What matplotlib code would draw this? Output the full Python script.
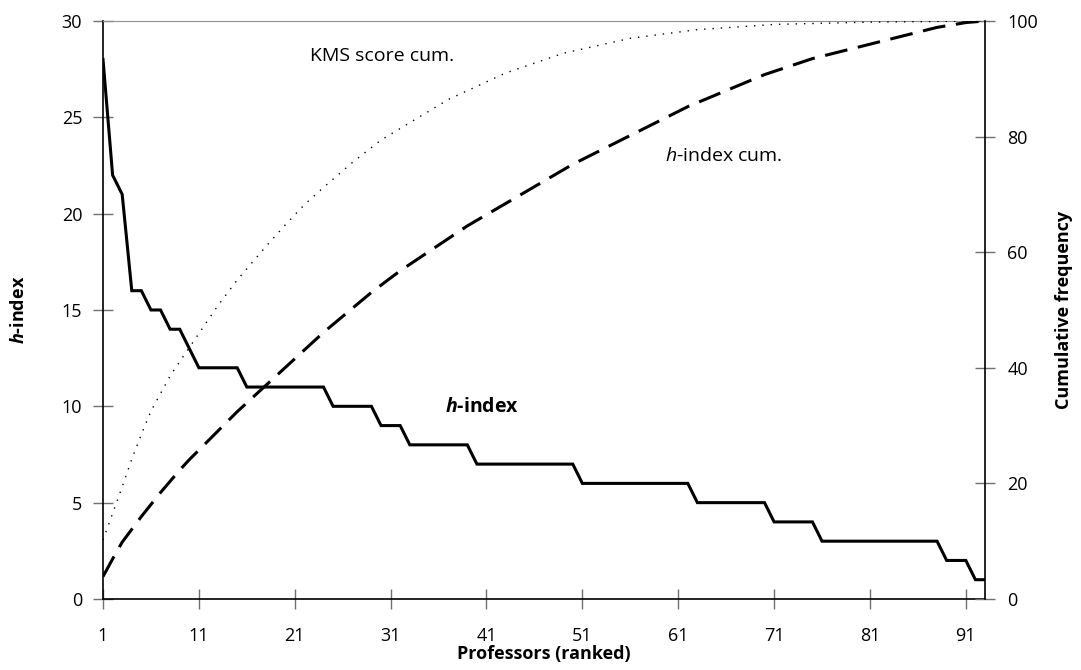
import numpy as np
import matplotlib
matplotlib.use("Agg")
import matplotlib.pyplot as plt

plt.rcParams['font.family'] = ['Open Sans', 'DejaVu Sans']
plt.rcParams['mathtext.fontset'] = 'custom'
plt.rcParams['mathtext.rm'] = 'Open Sans'
plt.rcParams['mathtext.it'] = 'Open Sans:italic'
plt.rcParams['mathtext.bf'] = 'Open Sans:bold'
plt.rcParams['mathtext.bfit'] = 'Open Sans:bold:italic'

# h-index of each professor, ranked (1..93)
h_index = ([28, 22, 21, 16, 16, 15, 15, 14, 14, 13]
           + [12] * 5 + [11] * 9 + [10] * 5 + [9] * 3 + [8] * 7
           + [7] * 11 + [6] * 12 + [5] * 8 + [4] * 5 + [3] * 13
           + [2] * 3 + [1] * 2)
ranks = np.arange(1, len(h_index) + 1)

# cumulative share of the h-index total (%)
h_cum = np.cumsum(h_index) / np.sum(h_index) * 100

# cumulative KMS score share (%) at these ranks
kms_ranks = [1, 2, 3, 4, 5, 6, 8, 10, 13, 15, 18, 20, 22, 24, 27, 30,
             33, 37, 43, 49, 56, 63, 71, 81, 93]
kms_cum = [10.2, 14.8, 19.4, 24.2, 28.5, 32.5, 38.6, 43.5, 50.8, 55.2,
           61.0, 64.7, 68.2, 71.2, 75.5, 79.4, 82.4, 86.4, 91.0, 94.4,
           97.0, 98.5, 99.4, 99.8, 100.0]

x_ticks = [1, 11, 21, 31, 41, 51, 61, 71, 81, 91]

fig = plt.figure(figsize=(10.81, 6.70), dpi=100)
ax = fig.add_axes([0.0953, 0.106, 0.8159, 0.8627])
ax2 = ax.twinx()

ax.plot(ranks, h_index, color='black', lw=2.2, solid_joinstyle='miter', zorder=3)
ax2.plot(ranks, h_cum, color='black', lw=2.2, dashes=(7.5, 3.5))
ax2.plot(kms_ranks, kms_cum, color='black', lw=1.0, dashes=(1, 5))

ax.set_xlim(1, 93)
ax.set_ylim(0, 30)
ax2.set_ylim(0, 100)
ax.set_xticks(x_ticks)
ax.set_yticks(range(0, 31, 5))
ax2.set_yticks(range(0, 101, 20))

for a in (ax, ax2):
    a.set_facecolor('none')
    for s in a.spines.values():
        s.set_visible(False)
ax.spines['left'].set_visible(True)
ax.spines['bottom'].set_visible(True)
ax.spines['top'].set_visible(True)
ax.spines['top'].set_color('#909090')
ax2.spines['right'].set_visible(True)
for s in (ax.spines['left'], ax.spines['bottom'], ax2.spines['right']):
    s.set_color('black')
    s.set_linewidth(1.2)

tick_kw = dict(direction='inout', length=14, width=1.0, color='#707070',
               labelcolor='black', labelsize=13)
ax.tick_params(axis='x', pad=13, **tick_kw)
ax.tick_params(axis='y', pad=8, **tick_kw)
ax2.tick_params(axis='y', pad=9, **tick_kw)

ax.set_xlabel('Professors (ranked)', fontsize=13, fontweight='bold', labelpad=0)
ax.set_ylabel(r'$\mathbfit{h}$-index', fontsize=13, fontweight='bold', labelpad=24)
ax2.set_ylabel('Cumulative frequency', fontsize=13, fontweight='bold', labelpad=12)

ax.text(22.6, 28.2, 'KMS score cum.', fontsize=14, ha='left', va='center')
ax.text(59.6, 23.0, r'$\mathit{h}$-index cum.', fontsize=14, ha='left', va='center')
ax.text(36.7, 9.96, r'$\mathbfit{h}$-index', fontsize=14, fontweight='bold',
        ha='left', va='center')

fig.savefig('out.png', dpi=100)
